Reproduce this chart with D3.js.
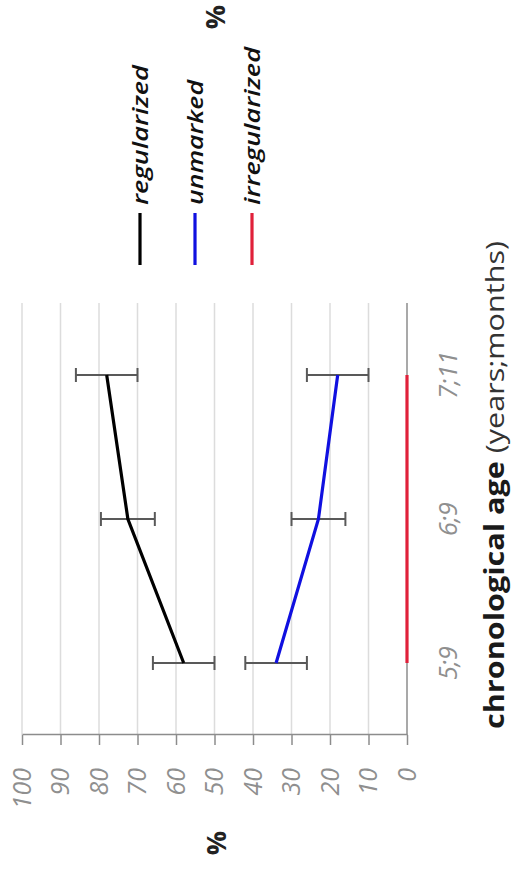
<!DOCTYPE html>
<html>
<head>
<meta charset="utf-8">
<script src="https://cdn.jsdelivr.net/npm/d3@7"></script>
<style>
  body { margin: 0; background: #fff; }
  text { font-family: "Open Sans", sans-serif; }
</style>
</head>
<body>
<svg id="chart"></svg>
<script>
// chart values
const categories = ["5;9", "6;9", "7;11"];
const regularized = [58, 72.5, 78];
const regularizedErr = [8, 7, 8];
const unmarked = [34, 23, 18];
const unmarkedErr = [8, 7, 8];
const irregularized = [0, 0, 0];
const yTicks = [0, 10, 20, 30, 40, 50, 60, 70, 80, 90, 100];
const seriesNames = ["regularized", "unmarked", "irregularized"];
const seriesColors = ["#000000", "#1010e0", "#e0203a"];

// the picture is the chart turned a quarter turn to the left,
// so draw it upright in a W x H frame and rotate the whole group
const width = 514;
const height = 872;

const svg = d3.select("#chart")
  .attr("width", width)
  .attr("height", height);

const g = svg.append("g")
  .attr("transform", `translate(0,${height}) rotate(-90)`);

const x = d3.scaleBand().domain(categories).range([137, 569]);
const y = d3.scaleLinear().domain([0, 100]).range([407, 22]);
const cx = c => x(c) + x.bandwidth() / 2;

// gridlines
g.append("g")
  .selectAll("line")
  .data(yTicks.filter(d => d > 0))
  .join("line")
  .attr("x1", 137).attr("x2", 569)
  .attr("y1", d => y(d)).attr("y2", d => y(d))
  .attr("stroke", "#dcdcdc")
  .attr("stroke-width", 1.5);

// category axis line at 0
g.append("line")
  .attr("x1", 137).attr("x2", 569)
  .attr("y1", y(0)).attr("y2", y(0))
  .attr("stroke", "#8c8c8c")
  .attr("stroke-width", 1.5);

// value axis
const yAxis = g.append("g")
  .attr("transform", "translate(137,0)")
  .call(d3.axisLeft(y).tickValues(yTicks).tickSize(10).tickPadding(23).tickSizeOuter(0));
yAxis.select(".domain").attr("stroke", "#8c8c8c").attr("stroke-width", 1.5);
yAxis.selectAll(".tick line").attr("stroke", "#8c8c8c").attr("stroke-width", 1.5);
yAxis.selectAll(".tick text")
  .attr("fill", "#8f8f8f")
  .style("font-size", "25px")
  .style("font-style", "italic")
  .style("font-family", "'Open Sans', sans-serif");

// category labels
g.append("g")
  .selectAll("text")
  .data(categories)
  .join("text")
  .attr("x", d => cx(d))
  .attr("y", 447)
  .attr("text-anchor", "middle")
  .attr("dominant-baseline", "central")
  .attr("fill", "#8f8f8f")
  .style("font-size", "25px")
  .style("font-style", "italic")
  .text(d => d);

// axis title
const title = g.append("text")
  .attr("x", 387)
  .attr("y", 504)
  .attr("text-anchor", "middle")
  .attr("textLength", 488)
  .attr("lengthAdjust", "spacingAndGlyphs")
  .attr("fill", "#1a1a1a")
  .style("font-size", "26px");
title.append("tspan").style("font-weight", "bold").text("chronological age ");
title.append("tspan").attr("fill", "#333").text("(years;months)");

// percent labels
[[29, 215], [855, 214]].forEach(p => {
  g.append("text")
    .attr("x", p[0]).attr("y", p[1])
    .attr("text-anchor", "middle")
    .attr("dominant-baseline", "central")
    .style("font-size", "27px")
    .style("font-weight", "bold")
    .attr("fill", "#222")
    .text("%");
});

// error bars
const errData = [];
categories.forEach((c, i) => {
  errData.push({ c, v: regularized[i], e: regularizedErr[i] });
  errData.push({ c, v: unmarked[i], e: unmarkedErr[i] });
});
const eb = g.append("g").attr("stroke", "#595959").attr("stroke-width", 2);
errData.forEach(d => {
  eb.append("line")
    .attr("x1", cx(d.c)).attr("x2", cx(d.c))
    .attr("y1", y(d.v - d.e)).attr("y2", y(d.v + d.e));
  [d.v - d.e, d.v + d.e].forEach(v => {
    eb.append("line")
      .attr("x1", cx(d.c) - 7).attr("x2", cx(d.c) + 7)
      .attr("y1", y(v)).attr("y2", y(v));
  });
});

// lines
const line = d3.line()
  .x((d, i) => cx(categories[i]))
  .y(d => y(d));
[regularized, unmarked, irregularized].forEach((vals, i) => {
  g.append("path")
    .datum(vals)
    .attr("fill", "none")
    .attr("stroke", seriesColors[i])
    .attr("stroke-width", 3.2)
    .attr("d", line);
});

// legend
const legendY = [140, 195, 252];
const legendLen = [140, 125, 158];
seriesNames.forEach((name, i) => {
  g.append("line")
    .attr("x1", 607).attr("x2", 659)
    .attr("y1", legendY[i]).attr("y2", legendY[i])
    .attr("stroke", seriesColors[i])
    .attr("stroke-width", 3.2);
  g.append("text")
    .attr("x", 667)
    .attr("y", legendY[i] + 8)
    .attr("textLength", legendLen[i])
    .attr("lengthAdjust", "spacingAndGlyphs")
    .attr("fill", "#111")
    .style("font-size", "21px")
    .style("font-weight", "600")
    .style("font-style", "italic")
    .text(name);
});
</script>
</body>
</html>
